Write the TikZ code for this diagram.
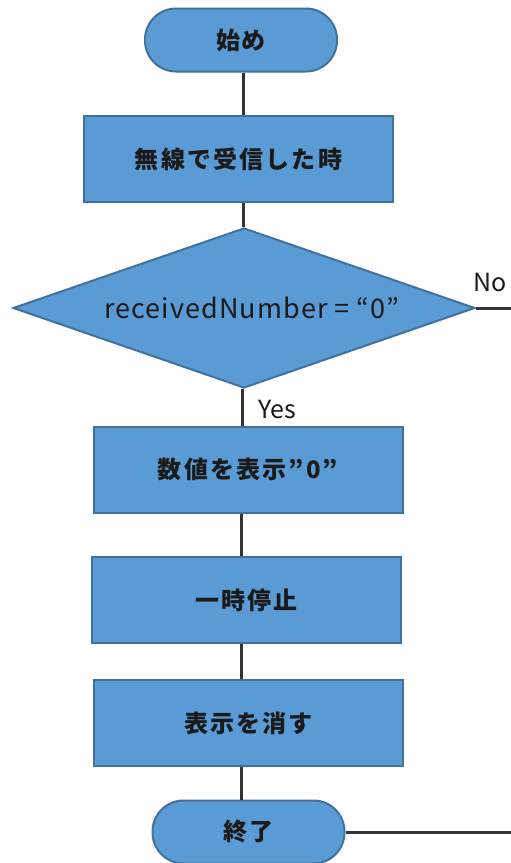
\documentclass[tikz,border=0pt]{standalone}
\usepackage{fontspec}
\setmainfont{Noto Sans CJK JP}
\usetikzlibrary{shapes.geometric}
\definecolor{boxfill}{HTML}{5B9BD5}
\definecolor{boxline}{HTML}{41719C}
\definecolor{conn}{HTML}{333333}
\definecolor{txt}{HTML}{1A1A1A}
\begin{document}
\begin{tikzpicture}[x=1pt,y=-1pt,
  base/.style={draw=boxline,fill=boxfill,line width=2pt,text=txt,inner sep=0pt},
  procbox/.style={base,rectangle,minimum width=309pt,minimum height=86pt,font=\fontsize{24}{26}\selectfont\bfseries\addfontfeatures{LetterSpace=9}},
  termbox/.style={base,rectangle,rounded corners=31pt,minimum width=192pt,minimum height=63pt,font=\fontsize{24}{26}\selectfont\bfseries\addfontfeatures{LetterSpace=8}},
  decbox/.style={base,diamond,aspect=2.89,minimum width=462pt,minimum height=160pt,font=\fontsize{27}{29}\selectfont\addfontfeatures{LetterSpace=4}},
  conline/.style={draw=conn,line width=3pt},
  lbl/.style={text=txt,inner sep=0pt,font=\fontsize{25}{27}\selectfont}]
\useasboundingbox (0,0) rectangle (511,863);
\node[termbox] (start) at (241,40) {始め};
\node[procbox] (recv) at (238.5,159) {無線で受信した時};
\node[decbox] (dec) at (244,308) {\hspace*{16pt}receivedNumber = “0”};
\node[procbox] (show) at (248,469.5) {数値を表示”0”};
\node[procbox] (pause) at (246.5,600) {一時停止};
\node[procbox] (clear) at (248.5,723) {表示を消す};
\node[termbox] (stop) at (248.5,832) {終了};
\coordinate (noend) at (511,308);
\coordinate (stopend) at (511,832);
\draw[conline] (start.south -| 243,0) -- (recv.north -| 243,0);
\draw[conline] (recv.south -| 243,0) -- (dec.north -| 243,0);
\draw[conline] (dec.south -| 242,0) -- (show.north -| 242,0);
\draw[conline] (show.south -| 241,0) -- (pause.north -| 241,0);
\draw[conline] (pause.south -| 241,0) -- (clear.north -| 241,0);
\draw[conline] (clear.south -| 241,0) -- (stop.north -| 241,0);
\draw[conline] (dec.east) -- (noend);
\draw[conline] (stop.east) -- (stopend);
\node[lbl,anchor=west] (yes) at (258,409) {Yes};
\node[lbl,anchor=west] (no) at (473,282) {No};
\end{tikzpicture}
\end{document}
